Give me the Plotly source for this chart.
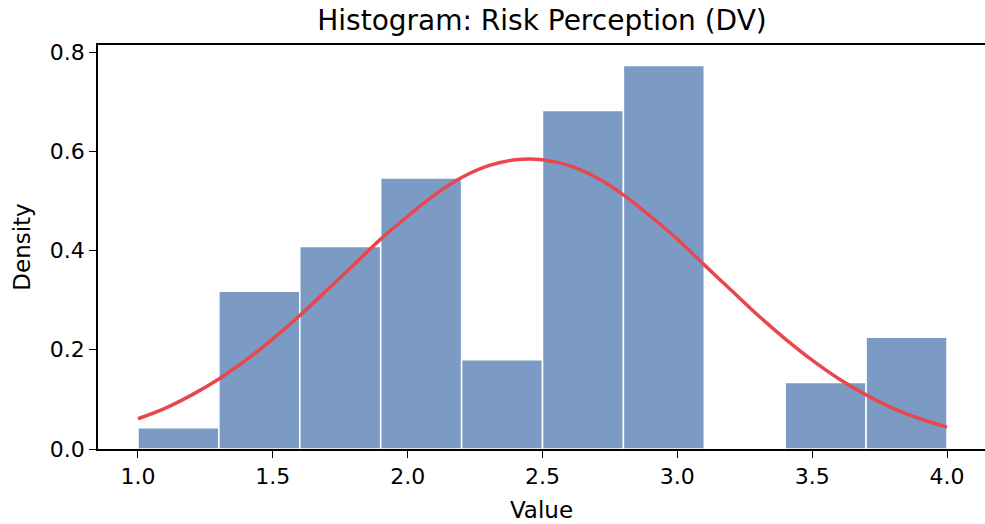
import plotly.graph_objects as go

# Histogram bins (centres) and densities
bin_centers = [1.15, 1.45, 1.75, 2.05, 2.35, 2.65, 2.95, 3.25, 3.55, 3.85]
densities = [0.043, 0.318, 0.408, 0.546, 0.180, 0.682, 0.773, 0.0, 0.134, 0.225]
bin_width = 0.3

# Fitted density curve
curve_x = [1.0, 1.1, 1.2, 1.3, 1.4, 1.5, 1.6, 1.7, 1.8, 1.9, 2.0, 2.1, 2.2, 2.3, 2.4,
           2.5, 2.6, 2.7, 2.8, 2.9, 3.0, 3.1, 3.2, 3.3, 3.4, 3.5, 3.6, 3.7, 3.8, 3.9, 4.0]
curve_y = [0.061, 0.082, 0.109, 0.141, 0.179, 0.222, 0.269, 0.320, 0.371, 0.423, 0.469,
           0.512, 0.547, 0.571, 0.583, 0.583, 0.571, 0.547, 0.512, 0.469, 0.423, 0.371,
           0.320, 0.269, 0.222, 0.179, 0.141, 0.109, 0.082, 0.061, 0.044]

x_ticks = [1.0, 1.5, 2.0, 2.5, 3.0, 3.5, 4.0]
x_ticklabels = ["1.0", "1.5", "2.0", "2.5", "3.0", "3.5", "4.0"]
y_ticks = [0.0, 0.2, 0.4, 0.6, 0.8]
y_ticklabels = ["0.0", "0.2", "0.4", "0.6", "0.8"]

FONT = "DejaVu Sans"

fig = go.Figure()
fig.add_trace(go.Bar(
    x=bin_centers, y=densities, width=[bin_width] * len(bin_centers),
    marker=dict(color="rgb(123,155,197)", line=dict(color="white", width=1.5)),
    showlegend=False,
))
fig.add_trace(go.Scatter(
    x=curve_x, y=curve_y, mode="lines", line=dict(color="rgb(232,72,76)", width=3.5, shape="spline"),
    showlegend=False,
))

fig.update_layout(
    width=985, height=524,
    margin=dict(l=98, r=0, t=45, b=75, autoexpand=False),
    paper_bgcolor="white", plot_bgcolor="white",
    font=dict(family=FONT, size=22, color="black"),
    title=dict(text="Histogram: Risk Perception (DV)", x=542 / 985, xanchor="center",
               y=1 - 20 / 524, yanchor="middle", yref="container", automargin=False,
               font=dict(family=FONT, size=28, color="black")),
    xaxis=dict(range=[0.8517, 4.1409], tickvals=x_ticks, ticktext=x_ticklabels,
               automargin=False,
               showgrid=False, zeroline=False, showline=True, linecolor="black", linewidth=1.5,
               mirror=True, ticks="outside", ticklen=7, tickwidth=1.3, tickcolor="black",
               tickfont=dict(size=22),
               title=dict(text="Value", font=dict(size=23), standoff=14)),
    yaxis=dict(range=[0, 0.8141], tickvals=y_ticks, ticktext=y_ticklabels,
               automargin=False,
               showgrid=False, zeroline=False, showline=True, linecolor="black", linewidth=1.5,
               ticks="outside", ticklen=7, tickwidth=1.3, tickcolor="black",
               tickfont=dict(size=22),
               title=dict(text="Density", font=dict(size=23), standoff=13)),
)

fig.write_html(
    "out.html",
    config={"displayModeBar": False},
    post_script="document.body.style.margin='0';document.body.style.overflow='hidden';",
)
